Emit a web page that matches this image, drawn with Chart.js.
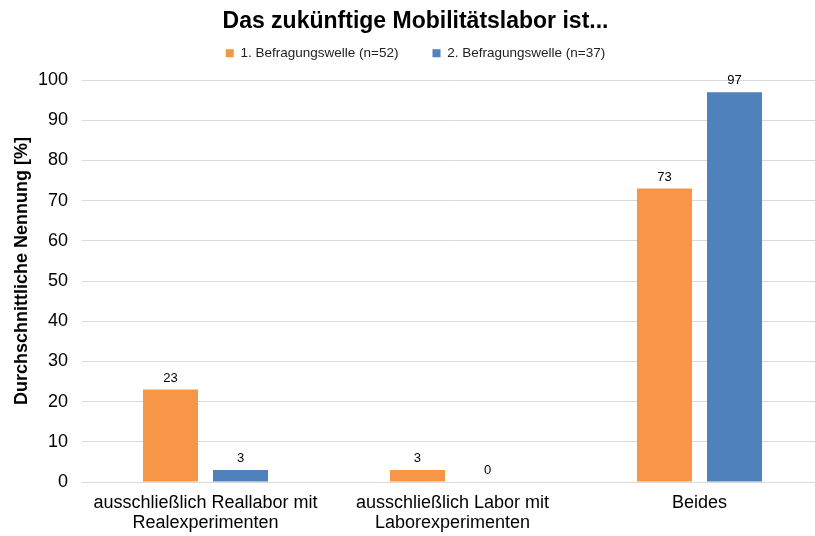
<!DOCTYPE html>
<html><head><meta charset="utf-8">
<script src="https://cdn.jsdelivr.net/npm/chart.js@4/dist/chart.umd.min.js"></script>
<style>
html,body{margin:0;padding:0;overflow:hidden;background:#fff;width:815px;height:536px;}
#wrap{width:823px;height:536px;position:relative;}
</style></head>
<body><div id="wrap"><canvas id="c" width="823" height="536"></canvas></div>
<script>
const categories = [["ausschließlich Reallabor mit","Realexperimenten"],["ausschließlich Labor mit","Laborexperimenten"],"Beides"];
const seriesNames = ["1. Befragungswelle (n=52)","2. Befragungswelle (n=37)"];
const wave1 = [23, 3, 73];
const wave2 = [3, 0, 97];
const titleText = "Das zukünftige Mobilitätslabor ist...";
const yTitle = "Durchschnittliche Nennung [%]";

const FONT = "'Liberation Sans', Arial, sans-serif";

const valueLabels = {
  id: 'valueLabels',
  afterDatasetsDraw(chart) {
    const ctx = chart.ctx;
    ctx.save();
    ctx.font = "13px " + FONT;
    ctx.fillStyle = "#000";
    ctx.textAlign = "center";
    ctx.textBaseline = "bottom";
    chart.data.datasets.forEach((ds, i) => {
      chart.getDatasetMeta(i).data.forEach((bar, j) => {
        ctx.fillText(String(ds.data[j]), bar.x, bar.y - 5);
      });
    });
    ctx.restore();
  }
};

const spacer = {
  id: 'spacer',
  beforeInit(chart) {
    const box = {
      position: 'top', weight: 100, fullSize: true, options: {},
      top: 0, left: 0, right: 0, bottom: 0, width: 0, height: 0,
      isHorizontal() { return true; },
      update(maxWidth) { this.width = maxWidth; this.height = 10; },
      draw() {}
    };
    Chart.layouts.addBox(chart, box);
  }
};

new Chart(document.getElementById('c'), {
  type: 'bar',
  data: {
    labels: categories,
    datasets: [
      {label: seriesNames[0], data: wave1, backgroundColor: '#F79646', categoryPercentage: 0.567, barPercentage: 0.786},
      {label: seriesNames[1], data: wave2, backgroundColor: '#4F81BD', categoryPercentage: 0.567, barPercentage: 0.786}
    ]
  },
  options: {
    responsive: false,
    animation: false,
    layout: {padding: {left: 8, right: 0, top: 4, bottom: 0}},
    plugins: {
      title: {display: true, text: titleText, font: {family: FONT, size: 23, weight: 'bold', lineHeight: 1.2}, color: '#000', padding: {top: 4, bottom: -23}},
      legend: {position: 'top', labels: {boxWidth: 8, boxHeight: 8, font: {family: FONT, size: 13.5}, color: '#222', padding: 34}},
      tooltip: {enabled: false}
    },
    scales: {
      x: {
        afterFit: s => { s.height = 54; },
        grid: {display: false},
        border: {display: true, color: '#d9d9d9'},
        ticks: {font: {family: FONT, size: 18, lineHeight: 1.1}, color: '#000', maxRotation: 0, padding: 3}
      },
      y: {
        min: 0, max: 100,
        afterFit: s => { s.width = 74; },
        ticks: {stepSize: 10, font: {family: FONT, size: 18}, color: '#000', padding: 14},
        grid: {color: '#d9d9d9', drawTicks: false},
        border: {display: false},
        title: {display: true, text: "    " + yTitle, font: {family: FONT, size: 18, weight: 'bold', lineHeight: 1.2}, color: '#000', padding: {top: 3, bottom: 0}}
      }
    }
  },
  plugins: [valueLabels, spacer]
});
</script></body></html>
